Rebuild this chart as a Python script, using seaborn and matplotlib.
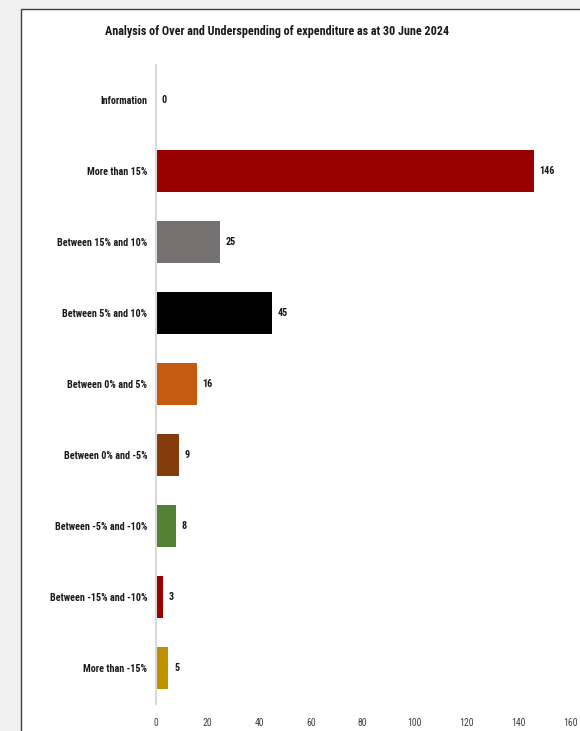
import matplotlib
matplotlib.use("Agg")
import matplotlib.pyplot as plt
from matplotlib import font_manager as fm
from matplotlib.patches import Rectangle
import seaborn as sns
import pandas as pd

categories = ["Information", "More than 15%", "Between 15% and 10%", "Between 5% and 10%",
              "Between 0% and 5%", "Between 0% and -5%", "Between -5% and -10%",
              "Between -15% and -10%", "More than -15%"]
counts = [0, 146, 25, 45, 16, 9, 8, 3, 5]
bar_colors = ["#990000", "#990000", "#767171", "#000000", "#C55A11",
              "#843C0C", "#548235", "#990000", "#BF9000"]
x_ticks = [0, 20, 40, 60, 80, 100, 120, 140, 160]

names = {f.name for f in fm.fontManager.ttflist}
narrow = "Lato"
for cand in ["Liberation Sans Narrow", "Roboto Condensed", "Open Sans Condensed", "DejaVu Sans Condensed"]:
    if cand in names:
        narrow = cand
        break

sns.set_style("white")
plt.rcParams["font.family"] = [narrow, "DejaVu Sans"]

df = pd.DataFrame({"category": categories, "count": counts})

fig = plt.figure(figsize=(5.8, 7.31), dpi=100)
fig.patch.set_facecolor("#f0f0f0")
# white chart panel with dark border
panel = Rectangle((21 / 580, -0.1), 1.0, 1 - 9 / 731 + 0.1, transform=fig.transFigure,
                  facecolor="white", edgecolor="#404040", linewidth=1.0, zorder=-1)
fig.patches.append(panel)

ax = fig.add_axes([155.5 / 580, 27.5 / 731, 414.5 / 580, 639 / 731])
ax.set_zorder(2)
ax.set_facecolor("none")
sns.barplot(data=df, y="category", x="count", hue="category", palette=bar_colors,
            saturation=1, legend=False, orient="h", width=0.6, ax=ax, edgecolor="none")

ax.set_xlim(0, 160)
ax.set_ylim(len(categories) - 0.5, -0.5)
ax.set_xticks(x_ticks)
ax.set_xticklabels([str(t) for t in x_ticks], fontsize=7, color="#404040")
ax.set_yticks(range(len(categories)))
ax.set_yticklabels(categories, fontsize=7.3, fontweight="bold", color="#1a1a1a")
ax.tick_params(axis="both", length=0)
ax.tick_params(axis="y", pad=6)
ax.tick_params(axis="x", pad=10.5)
ax.set_xlabel("")
ax.set_ylabel("")
for s in ["top", "right", "bottom"]:
    ax.spines[s].set_visible(False)
ax.spines["left"].set_color("#d9d9d9")
ax.spines["left"].set_linewidth(1.5)

for i, v in enumerate(counts):
    ax.text(v + 2.2, i, str(v), va="center", ha="left", fontsize=7.3,
            fontweight="bold", color="#1a1a1a")

fig.text(277 / 580, 1 - 31 / 731, "Analysis of Over and Underspending of expenditure as at 30 June 2024",
         ha="center", va="center", fontsize=8.7, fontweight="bold", color="#1a1a1a")

fig.savefig("out.png", dpi=100, facecolor=fig.get_facecolor())
